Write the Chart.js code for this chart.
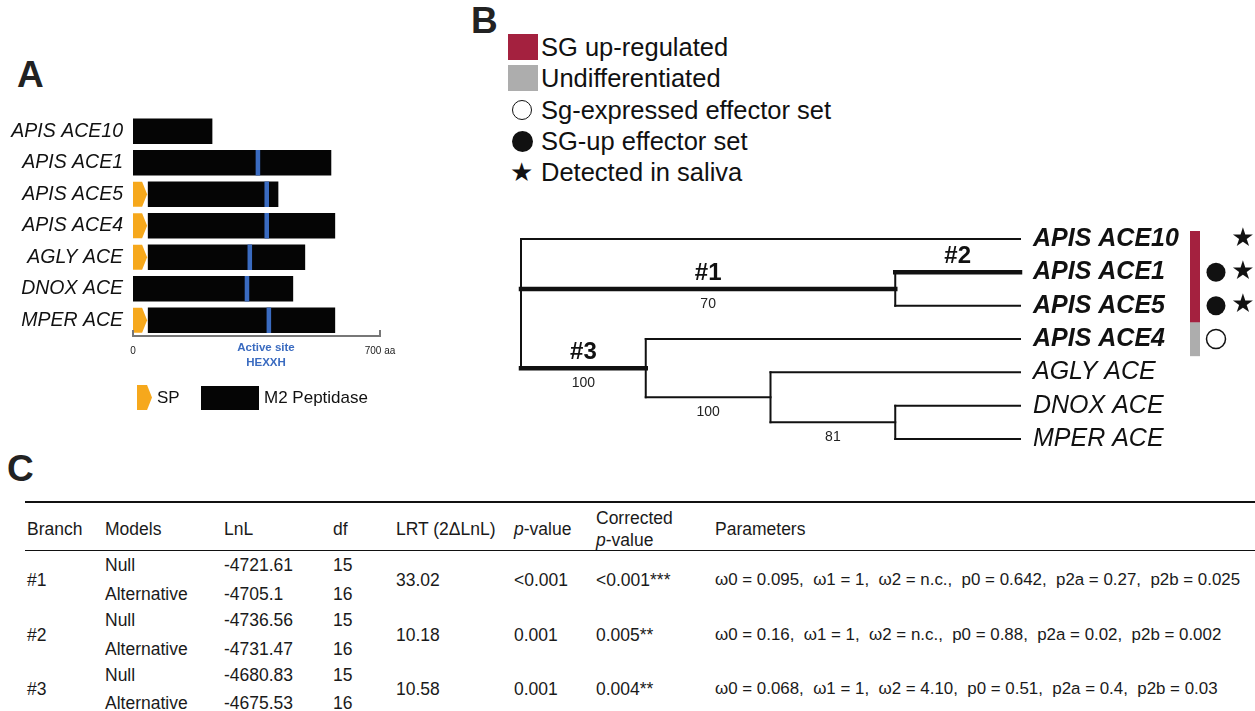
<!DOCTYPE html>
<html>
<head>
<meta charset="utf-8">
<script src="https://cdn.jsdelivr.net/npm/chart.js@4.4.0/dist/chart.umd.min.js"></script>
<style>
body { margin: 0; background: #fff; font-family: "Liberation Sans", Arial, sans-serif; color: #111; }
#page { position: relative; width: 1255px; height: 711px; overflow: hidden; }
.t { position: absolute; white-space: pre; line-height: 20px; height: 20px; }
canvas { position: absolute; }
.rule { position: absolute; left: 25px; width: 1230px; background: #111; }
</style>
</head>
<body>
<div id="page">
  <canvas id="domains" width="480" height="260" style="left:0;top:100px"></canvas>
  <canvas id="tree" width="755" height="240" style="left:500px;top:220px"></canvas>
  <div class="rule" style="top:501px;height:2px"></div>
  <div class="rule" style="top:550px;height:1px"></div>
</div>
<script>
// ---- panel A : domain structure (aa positions)
var proteins = ["APIS ACE10", "APIS ACE1", "APIS ACE5", "APIS ACE4", "AGLY ACE", "DNOX ACE", "MPER ACE"];
var spEnd = [null, null, 40, 40, 40, null, 40];
var m2Start = [0, 0, 43, 43, 43, 0, 43];
var m2End = [224, 561, 411, 572, 487, 453, 572];
var activeSite = [null, 354, 379, 379, 331, 323, 385];
var aaTicks = [0, 700];

// ---- panel B : tree
var tips = ["APIS ACE10", "APIS ACE1", "APIS ACE5", "APIS ACE4", "AGLY ACE", "DNOX ACE", "MPER ACE"];
var tipParent = ["root", "n1", "n1", "n3", "n4", "n5", "n5"];
var tipTag = [null, "#2", null, null, null, null, null];
var tipStatus = ["up", "up", "up", "undiff", null, null, null];
var tipEffector = [null, "up", "up", "expressed", null, null, null];
var tipSaliva = [true, true, true, false, false, false, false];
var nodes = ["root", "n1", "n3", "n4", "n5"];
var nodeParent = [null, "root", "root", "n3", "n4"];
var nodeDepth = [0, 7.5, 2.5, 5, 7.5];
var nodeTag = [null, "#1", "#3", null, null];
var nodeSupport = [null, 70, 100, 100, 81];
var tipDepth = 10;

// ---- panel C : table
var branches = ["#1", "#2", "#3"];
var lnlNull = ["-4721.61", "-4736.56", "-4680.83"];
var lnlAlt = ["-4705.1", "-4731.47", "-4675.53"];
var dfNull = [15, 15, 15];
var dfAlt = [16, 16, 16];
var lrt = ["33.02", "10.18", "10.58"];
var pValue = ["<0.001", "0.001", "0.001"];
var corrected = ["<0.001***", "0.005**", "0.004**"];
var params = [
    "ω0 = 0.095,  ω1 = 1,  ω2 = n.c.,  p0 = 0.642,  p2a = 0.27,  p2b = 0.025",
    "ω0 = 0.16,  ω1 = 1,  ω2 = n.c.,  p0 = 0.88,  p2a = 0.02,  p2b = 0.002",
    "ω0 = 0.068,  ω1 = 1,  ω2 = 4.10,  p0 = 0.51,  p2a = 0.4,  p2b = 0.03"
];

var FONT = '"Liberation Sans", Arial, sans-serif';
var RED = "#a4213f", GREY = "#adadad", ORANGE = "#f6a81c", BLUE = "#3a6bc0";
var page = document.getElementById("page");

function put(html, x, cy, style) {
    var d = document.createElement("div");
    d.className = "t";
    d.innerHTML = html;
    d.style.left = x + "px";
    d.style.top = (cy - 10) + "px";
    if (style) d.style.cssText += style;
    page.appendChild(d);
    return d;
}

// panel letters
put("A", 17, 75, "font-size:37px;font-weight:bold;color:#222");
put("B", 471, 21, "font-size:37px;font-weight:bold;color:#222");
put("C", 7, 469, "font-size:37px;font-weight:bold;color:#222");

// ---- panel A
var spShape = {
    id: "spShape",
    afterDatasetsDraw: function (chart) {
        var ctx = chart.ctx;
        var meta = chart.getDatasetMeta(2);
        ctx.save();
        ctx.fillStyle = ORANGE;
        meta.data.forEach(function (bar, i) {
            if (spEnd[i] == null) return;
            var h = bar.height / 2, tip = 5;
            ctx.beginPath();
            ctx.moveTo(bar.base, bar.y - h);
            ctx.lineTo(bar.x - tip, bar.y - h);
            ctx.lineTo(bar.x, bar.y);
            ctx.lineTo(bar.x - tip, bar.y + h);
            ctx.lineTo(bar.base, bar.y + h);
            ctx.closePath();
            ctx.fill();
        });
        // small upward tick marks on the aa axis
        var xs = chart.scales.x, b = chart.chartArea.bottom;
        ctx.strokeStyle = "#777";
        ctx.lineWidth = 2;
        aaTicks.forEach(function (v) {
            var px = xs.getPixelForValue(v);
            ctx.beginPath();
            ctx.moveTo(px, b);
            ctx.lineTo(px, b - 6);
            ctx.stroke();
        });
        ctx.restore();
    }
};

new Chart(document.getElementById("domains"), {
    type: "bar",
    data: {
        labels: proteins,
        datasets: [
            { label: "M2 Peptidase", order: 2, data: proteins.map(function (p, i) { return [m2Start[i], m2End[i]]; }), backgroundColor: "#050505" },
            { label: "Active site", order: 0, data: activeSite.map(function (v) { return v == null ? null : [v - 5.5, v + 5.5]; }), backgroundColor: BLUE },
            { label: "SP", order: 1, data: spEnd.map(function (v) { return v == null ? null : [0, v]; }), backgroundColor: "rgba(0,0,0,0)" }
        ]
    },
    options: {
        indexAxis: "y",
        responsive: false,
        animation: false,
        datasets: { bar: { grouped: false, barThickness: 25, borderWidth: 0 } },
        layout: { padding: { top: 15.5, right: 100, left: 0, bottom: 0 } },
        plugins: { legend: { display: false }, tooltip: { enabled: false } },
        scales: {
            y: {
                grid: { display: false },
                border: { display: false },
                ticks: { color: "#111", padding: 2, font: { family: FONT, size: 19.5, style: "italic" } },
                afterFit: function (s) { s.width = 133; }
            },
            x: {
                min: 0, max: 700,
                afterBuildTicks: function (s) { s.ticks = aaTicks.map(function (v) { return { value: v }; }); },
                grid: { display: false },
                border: { display: true, color: "#777", width: 2 },
                ticks: {
                    color: "#222", padding: 1, maxRotation: 0,
                    font: { family: FONT, size: 10 },
                    callback: function (v) { return v === 700 ? "700 aa" : String(v); }
                },
                afterFit: function (s) { s.height = 24; }
            }
        }
    },
    plugins: [spShape]
});

put("Active site", 266, 347, "font-size:11.5px;font-weight:bold;color:" + BLUE + ";transform:translateX(-50%)");
put("HEXXH", 266, 362, "font-size:11.5px;font-weight:bold;color:" + BLUE + ";transform:translateX(-50%)");
var sp = document.createElement("div");
sp.style.cssText = "position:absolute;left:137px;top:385px;width:15px;height:25px;background:" + ORANGE + ";clip-path:polygon(0 0,67% 0,100% 50%,67% 100%,0 100%)";
page.appendChild(sp);
put("SP", 157, 398, "font-size:17px");
var m2 = document.createElement("div");
m2.style.cssText = "position:absolute;left:201px;top:386px;width:58px;height:24px;background:#050505";
page.appendChild(m2);
put("M2 Peptidase", 264, 398, "font-size:17px");

// ---- panel B legend
var legItems = ["SG up-regulated", "Undifferentiated", "Sg-expressed effector set", "SG-up effector set", "Detected in saliva"];
var legY = [47, 78, 110, 141, 172];
legItems.forEach(function (txt, i) {
    put(txt, 541, legY[i], "font-size:25.5px");
    var m = document.createElement("div");
    var css = "position:absolute;";
    if (i < 2) css += "left:508px;top:" + (legY[i] - 13) + "px;width:30px;height:26px;background:" + (i === 0 ? RED : GREY);
    else if (i === 2) css += "left:512px;top:" + (legY[i] - 10) + "px;width:18px;height:18px;border:1.5px solid #111;border-radius:50%";
    else if (i === 3) css += "left:512px;top:" + (legY[i] - 10) + "px;width:21px;height:21px;background:#111;border-radius:50%";
    if (i < 4) { m.style.cssText = css; page.appendChild(m); }
    else put("★", 510, legY[i], "font-family:'DejaVu Sans';font-size:26px");
});

// ---- panel B tree layout
function children(name) {
    var ys = [];
    tips.forEach(function (t, i) { if (tipParent[i] === name) ys.push(i); });
    nodes.forEach(function (n, i) { if (nodeParent[i] === name) ys.push(nodeY(n)); });
    return ys;
}
function nodeY(name) {
    var ys = children(name);
    return ys.reduce(function (a, b) { return a + b; }, 0) / ys.length;
}
function depthOf(name) { return nodeDepth[nodes.indexOf(name)]; }

var segs = [];   // {pts, thick, tag, support}
nodes.forEach(function (n, i) {
    var ys = children(n);
    segs.push({ pts: [{ x: nodeDepth[i], y: Math.min.apply(null, ys) }, { x: nodeDepth[i], y: Math.max.apply(null, ys) }], thick: false });
    if (nodeParent[i]) {
        var y = nodeY(n);
        segs.push({ pts: [{ x: depthOf(nodeParent[i]), y: y }, { x: nodeDepth[i], y: y }], thick: !!nodeTag[i], tag: nodeTag[i], support: nodeSupport[i] });
    }
});
tips.forEach(function (t, i) {
    segs.push({ pts: [{ x: depthOf(tipParent[i]), y: i }, { x: tipDepth, y: i }], thick: !!tipTag[i], tag: tipTag[i] });
});

var treeDecor = {
    id: "treeDecor",
    afterDatasetsDraw: function (chart) {
        var ctx = chart.ctx, xs = chart.scales.x, ys = chart.scales.y, area = chart.chartArea;
        var half = (ys.getPixelForValue(1) - ys.getPixelForValue(0)) / 2;
        ctx.save();
        ctx.textBaseline = "middle";
        // branch tags and support values
        segs.forEach(function (s) {
            if (s.pts[0].y !== s.pts[1].y) return;
            var mx = (xs.getPixelForValue(s.pts[0].x) + xs.getPixelForValue(s.pts[1].x)) / 2;
            var py = ys.getPixelForValue(s.pts[0].y);
            ctx.textAlign = "center";
            ctx.fillStyle = "#111";
            if (s.tag) { ctx.font = "bold 24px " + FONT; ctx.fillText(s.tag, mx, py - 16); }
            if (s.support != null) { ctx.font = "14px " + FONT; ctx.fillStyle = "#222"; ctx.fillText(String(s.support), mx, py + 15); }
        });
        // tip labels and annotations
        var lx = xs.getPixelForValue(tipDepth) + 13;
        tips.forEach(function (t, i) {
            var py = ys.getPixelForValue(i);
            ctx.textAlign = "left";
            ctx.fillStyle = "#111";
            ctx.font = (tipStatus[i] ? "italic bold " : "italic ") + "25px " + FONT;
            ctx.fillText(t, lx, py);
            if (tipStatus[i]) {
                var top = i === 0 ? py - 8 : py - half;
                ctx.fillStyle = tipStatus[i] === "up" ? RED : GREY;
                ctx.fillRect(area.right + 170, top, 10, py + half - top + 0.5);
            }
            if (tipEffector[i]) {
                ctx.beginPath();
                ctx.arc(area.right + 196, py, 9.5, 0, Math.PI * 2);
                if (tipEffector[i] === "up") { ctx.fillStyle = "#111"; ctx.fill(); }
                else { ctx.strokeStyle = "#111"; ctx.lineWidth = 1.5; ctx.stroke(); }
            }
            if (tipSaliva[i]) {
                ctx.fillStyle = "#111";
                ctx.textAlign = "center";
                ctx.font = "26px 'DejaVu Sans'";
                ctx.fillText("★", area.right + 223, py);
            }
        });
        ctx.restore();
    }
};

new Chart(document.getElementById("tree"), {
    type: "scatter",
    data: {
        datasets: segs.map(function (s) {
            return {
                data: s.pts, showLine: true, pointRadius: 0, clip: false,
                borderColor: "#111", borderWidth: s.thick ? 4.5 : 2, borderCapStyle: "square"
            };
        })
    },
    options: {
        responsive: false,
        animation: false,
        layout: { padding: { left: 21, right: 235, top: 19, bottom: 21 } },
        plugins: { legend: { display: false }, tooltip: { enabled: false } },
        scales: {
            x: { type: "linear", min: 0, max: tipDepth, display: false },
            y: { type: "linear", min: 0, max: tips.length - 1, reverse: true, display: false }
        }
    },
    plugins: [treeDecor]
});

// ---- panel C table
var colX = [27, 105, 224, 333, 396, 514, 596, 715];
var heads = ["Branch", "Models", "LnL", "df", "LRT (2ΔLnL)", "<i>p</i>-value", null, "Parameters"];
var TS = "font-size:17.5px;color:#1a1a1a";
heads.forEach(function (h, i) { if (h) put(h, colX[i], 529, TS); });
put("Corrected", colX[6], 518, TS);
put("<i>p</i>-value", colX[6], 540, TS);
branches.forEach(function (b, k) {
    var yN = 565 + 55 * k, yA = 594 + 54.5 * k, yM = 580 + 54.5 * k;
    put(b, colX[0], yM, TS);
    put("Null", colX[1], yN, TS);
    put("Alternative", colX[1], yA, TS);
    put(lnlNull[k], colX[2], yN, TS);
    put(lnlAlt[k], colX[2], yA, TS);
    put(String(dfNull[k]), colX[3], yN, TS);
    put(String(dfAlt[k]), colX[3], yA, TS);
    put(lrt[k], colX[4], yM, TS);
    put(pValue[k].replace("<", "&lt;"), colX[5], yM, TS);
    put(corrected[k].replace("<", "&lt;"), colX[6], yM, TS);
    put(params[k], colX[7], yM, "font-size:16.9px;color:#1a1a1a");
});
</script>
</body>
</html>
